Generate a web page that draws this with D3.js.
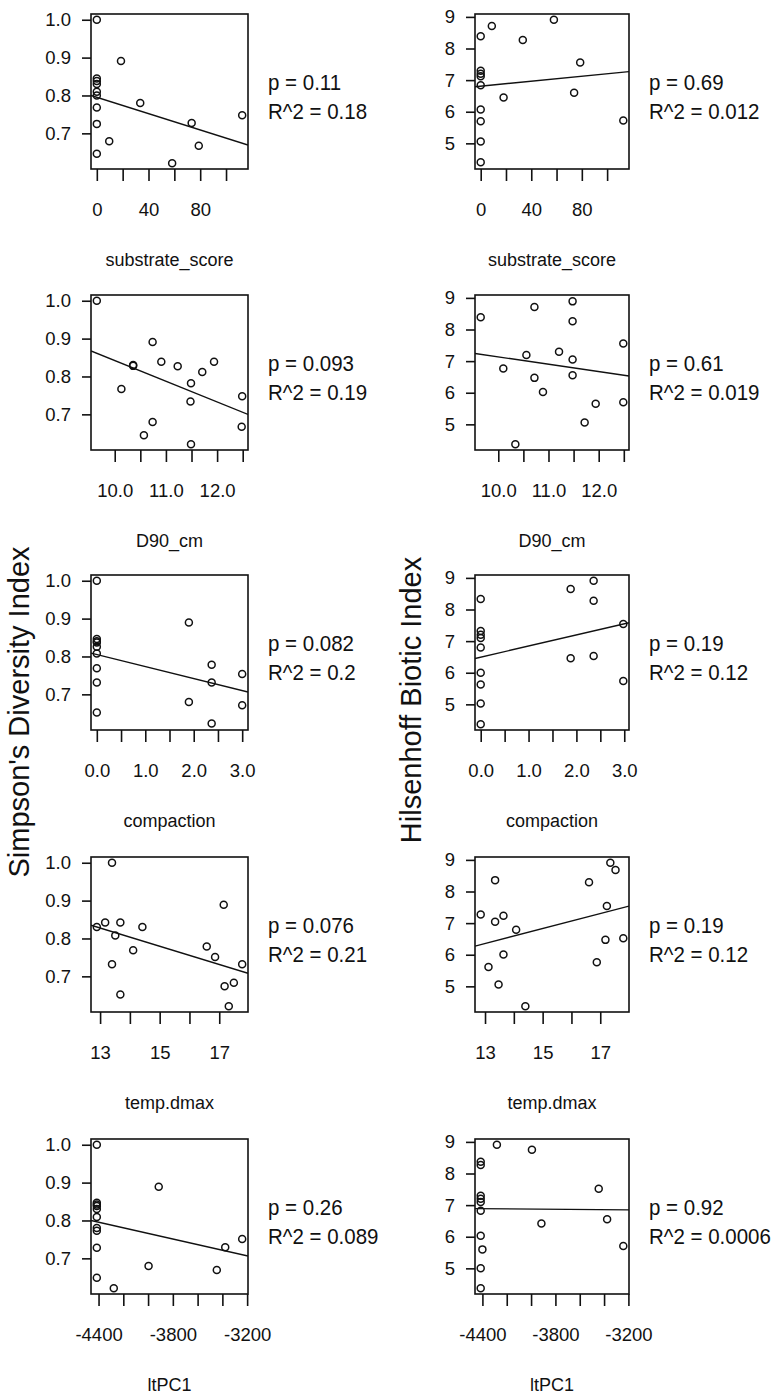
<!DOCTYPE html>
<html>
<head>
<meta charset="utf-8">
<title>Diversity and biotic index vs habitat variables</title>
<script src="https://cdnjs.cloudflare.com/ajax/libs/d3/7.8.5/d3.min.js"></script>
<style>
  body { margin: 0; background: #fff; }
  text { font-family: "Liberation Sans", Arial, sans-serif; fill: #111; }
  .box { fill: none; stroke: #111; stroke-width: 1.6; }
  .tick line { stroke: #111; stroke-width: 1.6; }
  .pt { fill: none; stroke: #111; stroke-width: 1.5; }
  .fit { stroke: #111; stroke-width: 1.4; }
</style>
</head>
<body>
<script>
// predictors, one per row
var predictors = ["substrate_score", "D90_cm", "compaction", "temp.dmax", "ltPC1"];

// x values per row, Simpson (left column)
var simpsonX = [
  [0, 18.7, 0, 0, 0, 0, 0, 33.6, 0, 112.5, 73.4, 0, 9.6, 78.9, 0, 58.3],
  [9.65, 10.74, 10.91, 10.36, 10.36, 11.23, 11.94, 11.71, 11.49, 10.13, 11.48, 12.49, 10.74, 10.57, 11.49, 12.48],
  [0, 0, 0, 0, 0, 0, 0, 0, 1.9, 2.37, 2.37, 3.0, 1.9, 3.0, 2.37, 0],
  [13.4, 17.15, 12.89, 13.17, 13.68, 14.42, 13.51, 16.58, 14.11, 16.86, 17.77, 13.4, 17.18, 17.49, 13.68, 17.32],
  [-4414, -4414, -4414, -4414, -4414, -4414, -4414, -4414, -4277, -3914, -3996, -3445, -3377, -3240, -4414, -4414]
];
var simpsonY = [
  [1.0, 0.891, 0.845, 0.838, 0.83, 0.81, 0.80, 0.78, 0.768, 0.748, 0.727, 0.725, 0.679, 0.667, 0.646, 0.621],
  [1.0, 0.891, 0.839, 0.830, 0.828, 0.827, 0.839, 0.812, 0.782, 0.767, 0.734, 0.748, 0.680, 0.645, 0.621, 0.667],
  [1.0, 0.846, 0.837, 0.826, 0.808, 0.769, 0.731, 0.652, 0.89, 0.778, 0.731, 0.754, 0.68, 0.671, 0.623, 0.84],
  [1.0, 0.889, 0.830, 0.842, 0.842, 0.830, 0.808, 0.779, 0.769, 0.751, 0.732, 0.732, 0.674, 0.683, 0.652, 0.621],
  [1.0, 0.847, 0.838, 0.809, 0.78, 0.773, 0.728, 0.649, 0.621, 0.889, 0.680, 0.669, 0.729, 0.751, 0.842, 0.83]
];

// x values per row, Hilsenhoff (right column)
var hbiX = [
  [0, 8.8, 57.9, 33.3, 78.7, 0, 0, 0, 0, 18.1, 73.9, 0, 0, 112.8, 0, 0],
  [9.65, 10.72, 11.48, 11.48, 12.49, 11.21, 10.56, 11.48, 10.10, 10.72, 11.48, 10.89, 11.94, 12.49, 11.72, 10.34],
  [0, 0, 0, 0, 0, 0, 0, 0, 0, 1.88, 2.36, 2.36, 2.98, 1.88, 2.36, 2.98],
  [12.85, 13.35, 13.35, 13.64, 14.08, 13.64, 13.12, 13.47, 14.40, 16.61, 17.23, 17.35, 17.53, 17.18, 17.80, 16.88],
  [-4414, -4414, -4414, -4414, -4414, -4414, -4414, -4400, -4414, -4414, -4281, -3993, -3915, -3444, -3375, -3242]
];
var hbiY = [
  [8.39, 8.71, 8.91, 8.27, 7.56, 7.30, 7.20, 7.12, 6.84, 6.45, 6.60, 6.07, 5.70, 5.72, 5.06, 4.40],
  [8.39, 8.71, 8.89, 8.26, 7.56, 7.30, 7.19, 7.05, 6.77, 6.47, 6.55, 6.02, 5.65, 5.70, 5.06, 4.37],
  [8.33, 7.32, 7.2, 7.1, 6.8, 6.0, 5.63, 5.03, 4.37, 8.65, 8.91, 8.28, 7.54, 6.46, 6.53, 5.74],
  [7.27, 8.36, 7.04, 7.23, 6.79, 6.01, 5.61, 5.06, 4.37, 8.29, 7.54, 8.91, 8.68, 6.47, 6.52, 5.76],
  [8.37, 8.27, 7.3, 7.2, 7.1, 6.82, 6.03, 5.6, 5.0, 4.37, 8.91, 8.75, 6.42, 7.52, 6.55, 5.71]
];

// fitted lines [intercept, slope]
var simpsonFit = [[0.7952, -0.001076], [1.388, -0.0546], [0.8052, -0.0318], [1.1409, -0.0241], [0.4693, -7.413e-5]];
var hbiFit = [[6.808, 0.00394], [9.447, -0.2314], [6.492, 0.3519], [3.267, 0.2374], [6.749, -3.15e-5]];

var simpsonStats = [["p = 0.11", "R^2 = 0.18"], ["p = 0.093", "R^2 = 0.19"], ["p = 0.082", "R^2 = 0.2"], ["p = 0.076", "R^2 = 0.21"], ["p = 0.26", "R^2 = 0.089"]];
var hbiStats = [["p = 0.69", "R^2 = 0.012"], ["p = 0.61", "R^2 = 0.019"], ["p = 0.19", "R^2 = 0.12"], ["p = 0.19", "R^2 = 0.12"], ["p = 0.92", "R^2 = 0.0006"]];

// tick values and labels
var xTicks = [
  [0, 20, 40, 60, 80, 100],
  [10, 10.5, 11, 11.5, 12, 12.5],
  [0, 0.5, 1, 1.5, 2, 2.5, 3],
  [13, 14, 15, 16, 17],
  [-4400, -4200, -4000, -3800, -3600, -3400, -3200]
];
var xTickLabels = [
  ["0", "", "40", "", "80", ""],
  ["10.0", "", "11.0", "", "12.0", ""],
  ["0.0", "", "1.0", "", "2.0", "", "3.0"],
  ["13", "", "15", "", "17"],
  ["-4400", "", "", "-3800", "", "", "-3200"]
];
var simpsonTicks = [0.7, 0.8, 0.9, 1.0];
var simpsonTickLabels = ["0.7", "0.8", "0.9", "1.0"];
var hbiTicks = [5, 6, 7, 8, 9];
var hbiTickLabels = ["5", "6", "7", "8", "9"];

var yTitles = ["Simpson's Diversity Index", "Hilsenhoff Biotic Index"];

// layout
var W = 772, H = 1397;
var colLeft = [91, 475], colWidth = [157, 154];
var rowTop = [14, 295, 575, 857, 1139], boxH = 155;

var svg = d3.select("body").append("svg")
  .attr("width", W)
  .attr("height", H);

// R style axis range: data extent padded by 4%
function padded(vals) {
  var e = d3.extent(vals), r = e[1] - e[0];
  return [e[0] - 0.04 * r, e[1] + 0.04 * r];
}

var columns = [
  { xs: simpsonX, ys: simpsonY, fit: simpsonFit, stats: simpsonStats, yTicks: simpsonTicks, yLabels: simpsonTickLabels },
  { xs: hbiX, ys: hbiY, fit: hbiFit, stats: hbiStats, yTicks: hbiTicks, yLabels: hbiTickLabels }
];

columns.forEach(function(col, c) {
  var yDomain = padded(d3.merge(col.ys));
  predictors.forEach(function(name, r) {
    var w = colWidth[c];
    var g = svg.append("g")
      .attr("transform", "translate(" + colLeft[c] + "," + rowTop[r] + ")");

    var x = d3.scaleLinear().domain(padded(col.xs[r])).range([0, w]);
    var y = d3.scaleLinear().domain(yDomain).range([boxH, 0]);

    var clipId = "clip" + c + "_" + r;
    g.append("clipPath").attr("id", clipId)
      .append("rect").attr("width", w).attr("height", boxH);

    // axes
    var xa = g.append("g")
      .attr("transform", "translate(0," + boxH + ")")
      .call(d3.axisBottom(x)
        .tickValues(xTicks[r])
        .tickFormat(function(d, i) { return xTickLabels[r][i]; })
        .tickSize(12)
        .tickPadding(22));
    xa.select(".domain").remove();
    xa.selectAll("text").attr("font-size", 18.5).attr("fill", "#111");

    var ya = g.append("g")
      .call(d3.axisLeft(y)
        .tickValues(col.yTicks)
        .tickFormat(function(d, i) { return col.yLabels[i]; })
        .tickSize(9)
        .tickPadding(11));
    ya.select(".domain").remove();
    ya.selectAll("text").attr("font-size", 18.5).attr("fill", "#111");

    // fitted line
    var a = col.fit[r][0], b = col.fit[r][1], xd = x.domain();
    g.append("line")
      .attr("class", "fit")
      .attr("clip-path", "url(#" + clipId + ")")
      .attr("x1", x(xd[0])).attr("y1", y(a + b * xd[0]))
      .attr("x2", x(xd[1])).attr("y2", y(a + b * xd[1]));

    // points
    g.selectAll("circle.pt")
      .data(col.xs[r].map(function(v, i) { return [v, col.ys[r][i]]; }))
      .enter().append("circle")
      .attr("class", "pt")
      .attr("cx", function(d) { return x(d[0]); })
      .attr("cy", function(d) { return y(d[1]); })
      .attr("r", 3.5);

    g.append("rect")
      .attr("class", "box")
      .attr("width", w)
      .attr("height", boxH);

    // x title
    g.append("text")
      .attr("x", w / 2)
      .attr("y", boxH + 97)
      .attr("text-anchor", "middle")
      .attr("font-size", 18)
      .text(name);

    // stats
    col.stats[r].forEach(function(s, k) {
      g.append("text")
        .attr("transform", "translate(" + (w + 20) + "," + (76 + k * 29) + ") scale(1,1.12)")
        .attr("font-size", 20.5)
        .text(s);
    });
  });
});

// outer y titles
var titleX = [29, 421], titleY = [712, 700];
yTitles.forEach(function(t, c) {
  svg.append("text")
    .attr("transform", "translate(" + titleX[c] + "," + titleY[c] + ") rotate(-90)")
    .attr("text-anchor", "middle")
    .attr("font-size", 29)
    .text(t);
});
</script>
</body>
</html>
